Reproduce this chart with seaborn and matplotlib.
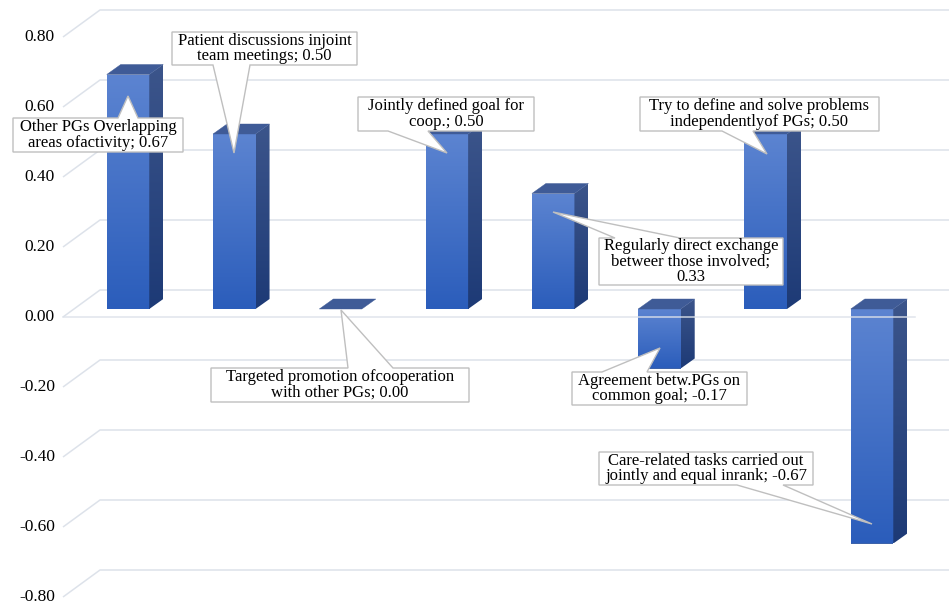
import numpy as np
import matplotlib
matplotlib.use("Agg")
import matplotlib.pyplot as plt
import seaborn as sns
import pandas as pd
from matplotlib.patches import Polygon
from matplotlib.colors import LinearSegmentedColormap

# ---------------- data ----------------
categories = [
    "Other PGs Overlapping areas ofactivity",
    "Patient discussions injoint team meetings",
    "Targeted promotion ofcooperation with other PGs",
    "Jointly defined goal for coop.",
    "Regularly direct exchange betweer those involved",
    "Agreement betw.PGs on common goal",
    "Try to define and solve problems independentlyof PGs",
    "Care-related tasks carried out jointly and equal inrank",
]
values = [0.67, 0.50, 0.00, 0.50, 0.33, -0.17, 0.50, -0.67]
# wrapped label names as shown in the callouts, and separator before value
wrapped_names = [
    "Other PGs Overlapping\nareas ofactivity",
    "Patient discussions injoint\nteam meetings",
    "Targeted promotion ofcooperation\nwith other PGs",
    "Jointly defined goal for\ncoop.",
    "Regularly direct exchange\nbetweer those involved",
    "Agreement betw.PGs on\ncommon goal",
    "Try to define and solve problems\nindependentlyof PGs",
    "Care-related tasks carried out\njointly and equal inrank",
]
value_seps = ["; ", "; ", "; ", "; ", ";\n", "; ", "; ", "; "]
yticks = [-0.80, -0.60, -0.40, -0.20, 0.00, 0.20, 0.40, 0.60, 0.80]

# ---------------- layout (pixels, top-left origin) ----------------
W, H = 949, 605
X0_PX, XSTEP_PX = 128.0, 106.29      # first category centre, category spacing
BASE_PX, UNIT_PX = 309.0, 350.0      # zero line of bar plane, pixels per unit
DEPTH_DX, DEPTH_DY = 14.0, 10.0      # bar depth
FRONT_DY, BACK_DY = 8.0, -19.0       # floor front/back relative to bar plane
FRONT_LEFT, BACK_LEFT = 63.0, 100.0
FLOOR_RIGHT = 915.0
TICK_X = 55.0

# callouts: box (x0, y0, x1, y1), edge with tail, tail base (xa, xb), apex (x, y)
callouts = [
    ((13, 118, 183, 152), "top", (118, 138), (128, 96)),
    ((172, 32, 357, 65), "bottom", (213, 250), (234, 153)),
    ((211, 368, 469, 402), "top", (348, 393), (341, 310)),
    ((358, 97, 534, 131), "bottom", (388, 428), (447, 153)),
    ((599, 238, 783, 285), "top", (615, 680), (553, 212)),
    ((572, 372, 747, 405), "top", (602, 647), (660, 348)),
    ((640, 97, 879, 131), "bottom", (722, 753), (767, 154)),
    ((599, 452, 813, 485), "bottom", (737, 783), (872, 524)),
]

FONT = ["Liberation Serif", "DejaVu Serif"]
GRID_COLOR = "#DDE2EA"

fig = plt.figure(figsize=(W / 100, H / 100), dpi=100)
ax = fig.add_axes([0, 0, 1, 1])

df = pd.DataFrame({"category": categories, "value": values})
sns.barplot(data=df, x="category", y="value", width=0.4, color="#2C5EBC",
            errorbar=None, ax=ax, zorder=3, linewidth=0)

ax.set_xlim(-X0_PX / XSTEP_PX, (W - X0_PX) / XSTEP_PX)
ax.set_ylim(-(H - BASE_PX) / UNIT_PX, BASE_PX / UNIT_PX)
ax.set_autoscale_on(False)
ax.axis("off")


def P(x, y):
    return ax.transData.inverted().transform((x, H - y))


def DP(dx, dy):
    a = ax.transData.inverted().transform((0, 0))
    b = ax.transData.inverted().transform((dx, dy))
    return b - a


ddx, ddy = DP(DEPTH_DX, DEPTH_DY)

# ---------------- grid (back wall + floor diagonals) ----------------
for v in yticks:
    yb = BASE_PX + BACK_DY - UNIT_PX * v
    yf = BASE_PX + FRONT_DY - UNIT_PX * v
    p1, p2, p3 = P(FRONT_LEFT, yf), P(BACK_LEFT, yb), P(W + 5, yb)
    ax.plot([p1[0], p2[0], p3[0]], [p1[1], p2[1], p3[1]], color=GRID_COLOR,
            lw=1.1, zorder=1, solid_capstyle="butt")
    t = P(TICK_X, yf)
    ax.text(t[0], t[1], f"{v:.2f}", ha="right", va="center", fontsize=12.5,
            family=FONT, color="black", zorder=6)

# ---------------- 3D bar faces ----------------
front_cmap = LinearSegmentedColormap.from_list("front", ["#2B5DBB", "#5C84D1"])
side_cmap = LinearSegmentedColormap.from_list("side", ["#1D3A76", "#3C558B"])
grad = np.linspace(0, 1, 256).reshape(-1, 1)

bars = list(ax.patches)
for p in bars:
    x0 = p.get_x()
    x1 = x0 + p.get_width()
    lo = min(p.get_y(), p.get_y() + p.get_height())
    hi = max(p.get_y(), p.get_y() + p.get_height())
    if hi - lo > 1e-9:
        im = ax.imshow(grad, cmap=front_cmap, origin="lower", aspect="auto",
                       extent=[x0, x1, lo, hi], zorder=3.1, interpolation="bilinear")
        im.set_clip_path(p)
        side = Polygon([(x1, lo), (x1, hi), (x1 + ddx, hi + ddy), (x1 + ddx, lo + ddy)],
                       closed=True, facecolor="none", edgecolor="none", zorder=3)
        ax.add_patch(side)
        ims = ax.imshow(grad, cmap=side_cmap, origin="lower", aspect="auto",
                        extent=[x1, x1 + ddx, lo, hi + ddy], zorder=3.1,
                        interpolation="bilinear")
        ims.set_clip_path(side)
    top = Polygon([(x0, hi), (x1, hi), (x1 + ddx, hi + ddy), (x0 + ddx, hi + ddy)],
                  closed=True, facecolor="#3F5B97", edgecolor="#3F5B97", lw=0.3,
                  zorder=3.2)
    ax.add_patch(top)

# floor front edge at zero
f1, f2 = P(FRONT_LEFT, BASE_PX + FRONT_DY), P(FLOOR_RIGHT, BASE_PX + FRONT_DY)
ax.plot([f1[0], f2[0]], [f1[1], f2[1]], color=GRID_COLOR, lw=1.1, zorder=4,
        alpha=0.9)

# ---------------- callouts ----------------
for i, ((bx0, by0, bx1, by1), edge, (xa, xb), (axp, ayp)) in enumerate(callouts):
    if edge == "top":
        pts = [(bx0, by0), (xa, by0), (axp, ayp), (xb, by0), (bx1, by0),
               (bx1, by1), (bx0, by1)]
    else:
        pts = [(bx0, by0), (bx1, by0), (bx1, by1), (xb, by1), (axp, ayp),
               (xa, by1), (bx0, by1)]
    poly = Polygon([P(x, y) for x, y in pts], closed=True, facecolor="white",
                   edgecolor="#BFBFBF", lw=1.0, zorder=5, joinstyle="miter")
    ax.add_patch(poly)
    c = P((bx0 + bx1) / 2, (by0 + by1) / 2)
    label = f"{wrapped_names[i]}{value_seps[i]}{values[i]:.2f}"
    ax.text(c[0], c[1], label, ha="center", va="center", multialignment="center",
            fontsize=12, family=FONT, linespacing=0.95, color="black", zorder=6)

fig.savefig("out.png", dpi=100, facecolor="white")
